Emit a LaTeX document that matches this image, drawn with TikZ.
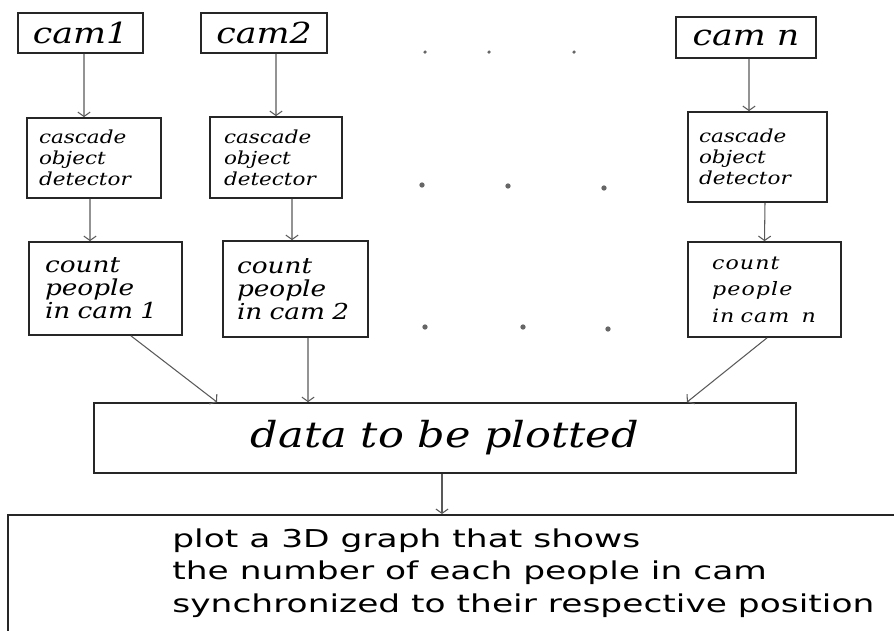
\documentclass[tikz,border=0pt]{standalone}
\usepackage{fontspec}
\usepackage{tikz}
\usetikzlibrary{arrows.meta, positioning}

\newfontfamily\handfont{DejaVu Serif}[FakeStretch=1.2]
\newfontfamily\handspaced{DejaVu Serif}[FakeStretch=1.2, LetterSpace=6]
\newfontfamily\plainfont{DejaVu Sans}[FakeStretch=1.4]

\tikzset{
  cambox/.style={draw=black!85, line width=1pt, minimum height=0.8cm,
    font=\handfont\itshape\fontsize{16.5}{18}\selectfont},
  stagebox/.style={draw=black!85, line width=1pt, align=left, inner xsep=0.28cm,
    font=\handfont\itshape\fontsize{10.2}{12}\selectfont},
  countbox/.style={stagebox, font=\handfont\itshape\fontsize{12.5}{13}\selectfont},
  flow/.style={draw=black!65, line width=0.6pt, -{Straight Barb[length=2.5pt,width=7pt]}},
}

\begin{document}
\begin{tikzpicture}[x=0.02cm, y=-0.02cm]
        \useasboundingbox (0,0) rectangle (894,630);

        % Cameras
        \node[cambox, minimum width=2.5cm] (cam1) at (80.5,33) {cam1};
        \node[cambox, minimum width=2.52cm] (cam2) at (264,33) {cam2};
        \node[cambox, minimum width=2.8cm, minimum height=0.82cm] (camn) at (746,37.5) {cam n};

        % Detectors
        \node[stagebox, text width=2.2cm, minimum height=1.6cm, inner xsep=0.24cm] (det1) at (94,158) {cascade\\object\\detector};
        \node[stagebox, text width=2.08cm, minimum height=1.62cm] (det2) at (276,157.5) {cascade\\object\\detector};
        \node[stagebox, text width=2.34cm, minimum height=1.8cm, inner xsep=0.22cm] (detn) at (757.5,157) {cascade\\object\\detector};

        % Counters
        \node[countbox, text width=2.42cm, minimum height=1.86cm, inner xsep=0.32cm] (count1) at (105.5,288.5) {count\\people\\in cam 1};
        \node[countbox, text width=2.34cm, minimum height=1.92cm] (count2) at (295.5,289) {count\\people\\in cam 2};
        \node[stagebox, text width=2.1cm, minimum height=1.9cm, inner xsep=0.48cm,
              font=\handspaced\itshape\fontsize{10.5}{15}\selectfont] (countn) at (764.5,289.5) {count\\people\\in cam~~n};

        % Merge and plot
        \node[cambox, minimum width=14.04cm, minimum height=1.4cm,
              font=\handfont\itshape\fontsize{20.4}{22}\selectfont] (data) at (445,438) {data to be plotted};
        \node[draw=black!85, line width=1pt, anchor=north west, minimum width=18.6cm, minimum height=3cm] (plot) at (7,514) {};
        \node[anchor=north west, align=left, inner sep=0pt,
              font=\plainfont\fontsize{14}{18.7}\selectfont] (plotlines) at ([shift={(165,14)}]plot.north west)
              {plot a 3D graph that shows\\the number of each people in cam\\synchronized to their respective position};

        % Arrows
        \draw[flow] ([xshift=0.07cm]cam1.south) -- ([xshift=-0.2cm]det1.north);
        \draw[flow] ([xshift=0.24cm]cam2.south) -- (det2.north);
        \draw[flow] ([xshift=0.06cm]camn.south) -- ([xshift=-0.17cm]detn.north);
        \draw[flow] ([xshift=-0.08cm]det1.south) -- ([xshift=-0.31cm]count1.north);
        \draw[flow] ([xshift=0.32cm]det2.south) -- ([xshift=-0.07cm]count2.north);
        \draw[flow] ([xshift=0.15cm]detn.south) -- (countn.north);
        \draw[flow] ([xshift=0.51cm]count1.south) -- ([xshift=-4.56cm]data.north);
        \draw[flow] ([xshift=0.25cm]count2.south) -- ([xshift=-2.74cm]data.north);
        \draw[flow] ([xshift=0.05cm]countn.south) -- ([xshift=4.84cm]data.north);
        \draw[flow] ([xshift=-0.06cm]data.south) -- ([xshift=-0.06cm]data.south |- plot.north);

        % Ellipsis dots between the columns
        \foreach \p in {(425,52), (489,52), (574,52)}
            \fill[black!60] \p circle (1pt);
        \foreach \p in {(422,185), (508,186), (604,188), (425,327), (523,327), (608,329)}
            \fill[black!60] \p circle (1.5pt);
\end{tikzpicture}
\end{document}
